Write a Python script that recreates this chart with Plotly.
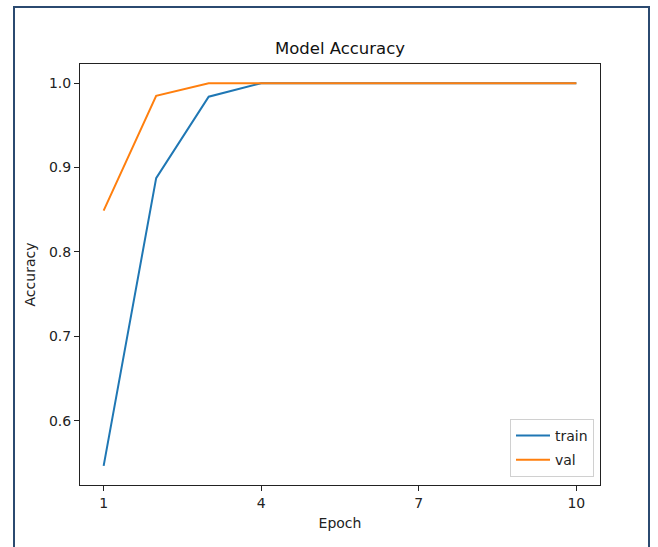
import plotly.graph_objects as go

epochs = [1, 2, 3, 4, 5, 6, 7, 8, 9, 10]
train_acc = [0.5466, 0.8875, 0.984, 1.0, 1.0, 1.0, 1.0, 1.0, 1.0, 1.0]
val_acc = [0.849, 0.985, 1.0, 1.0, 1.0, 1.0, 1.0, 1.0, 1.0, 1.0]
x_ticks = [1, 4, 7, 10]
y_ticks = [0.6, 0.7, 0.8, 0.9, 1.0]

W, H = 658, 547
L, R, T, B = 80, 600, 64, 485
pw, ph = R - L, B - T

fig = go.Figure()
fig.add_trace(go.Scatter(x=epochs, y=train_acc, mode="lines", name="train",
                         legendgroup="a",
                         line=dict(color="#1f77b4", width=2)))
fig.add_trace(go.Scatter(x=epochs, y=val_acc, mode="lines", name="val",
                         legendgroup="b",
                         line=dict(color="#ff7f0e", width=2)))

font = "DejaVu Sans, sans-serif"
fig.update_layout(
    width=W, height=H,
    margin=dict(l=L, r=W - R, t=T, b=H - B, pad=0),
    paper_bgcolor="white", plot_bgcolor="white",
    font=dict(family=font, size=14, color="#222"),
    title=dict(text="Model Accuracy", x=340 / W, xanchor="center",
               y=1 - 48 / H, yanchor="middle", font=dict(size=16.5, color="#111")),
    showlegend=True,
    legend=dict(x=(594 - L) / pw, y=(B - 477) / ph, xanchor="right", yanchor="bottom",
                bgcolor="rgba(255,255,255,0.8)", bordercolor="#d0d0d0", borderwidth=1,
                font=dict(size=14, color="#222"), itemwidth=34, tracegroupgap=3),
    xaxis=dict(range=[0.55, 10.45], tickvals=x_ticks, showgrid=False, zeroline=False,
               showline=True, linecolor="#222", linewidth=1, mirror=True,
               ticks="outside", ticklen=5, tickcolor="#222",
               title=dict(text="Epoch", standoff=8, font=dict(size=14))),
    yaxis=dict(range=[0.5239, 1.0227], tickvals=y_ticks, tickformat=".1f",
               showgrid=False, zeroline=False,
               showline=True, linecolor="#222", linewidth=1, mirror=True,
               ticks="outside", ticklen=5, tickcolor="#222",
               title=dict(text="Accuracy", standoff=10, font=dict(size=14))),
    shapes=[dict(type="rect", xref="paper", yref="paper",
                 x0=(14 - L) / pw, x1=(649 - L) / pw,
                 y0=(B - 560) / ph, y1=1 + (T - 7) / ph,
                 line=dict(color="#2b4a70", width=2), fillcolor="rgba(0,0,0,0)",
                 layer="above")],
)

fig.write_html("out.html", config={"displayModeBar": False},
               post_script="document.body.style.margin='0';document.body.style.overflow='hidden';")
